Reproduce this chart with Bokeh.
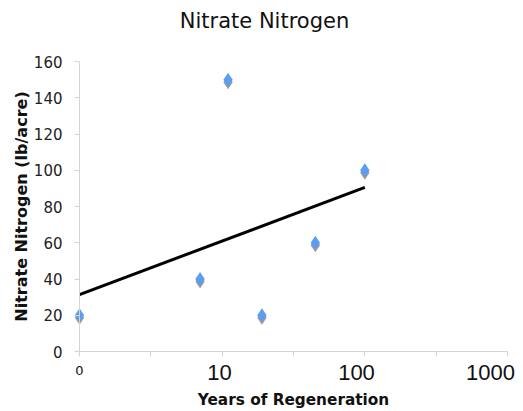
import numpy as np
from bokeh.plotting import figure
from bokeh.models import FixedTicker, Range1d, ColumnDataSource
from bokeh.transform import dodge
from bokeh.core.properties import value
from bokeh.embed import file_html
from bokeh.resources import INLINE

# Data
years = [0, 7, 11, 19, 45, 100]
nitrate = [20, 40, 150, 20, 60, 100]
y_ticks = [0, 20, 40, 60, 80, 100, 120, 140, 160]
x_tick_values = [1, 10, 100, 1000]
x_big_labels = ["10", "100", "1000"]
title_text = "Nitrate Nitrogen"
x_title = "Years of Regeneration"
y_title = "Nitrate Nitrogen (lb/acre)"

# log10 position (year 0 shown at the "0" tick, i.e. 10^0)
xpos = [float(np.log10(max(v, 1))) for v in years]

# logarithmic trend line fitted to the points
slope, intercept = np.polyfit(xpos, nitrate, 1)
tx = [min(xpos), max(xpos)]
ty = [intercept + slope * v for v in tx]

# layout: the plotting frame fills the canvas; the axes sit at x=0 / y=0
W, H = 523, 411
X0_PX, Y0_PX = 79.0, 351.0          # pixel position of (log=0, value=0)
PX_PER_DEC = 142.67                 # pixels per decade
PX_PER_UNIT = 290.0 / 160.0         # pixels per lb/acre


def dx(px):
    return (px - X0_PX) / PX_PER_DEC


def dy(py):
    return (Y0_PX - py) / PX_PER_UNIT


p = figure(width=W, height=H, output_backend="svg", toolbar_location=None, title=None,
           x_range=Range1d(dx(0), dx(W)), y_range=Range1d(dy(H), dy(0)), min_border=0)
p.outline_line_color = None
p.xgrid.visible = False
p.ygrid.visible = False
p.background_fill_color = "white"
p.border_fill_color = "white"

axis_col = "#d4d4d4"
# x axis, drawn at y = 0
xa = p.xaxis[0]
xa.fixed_location = 0
xa.bounds = (0, 3)
xa.ticker = FixedTicker(ticks=[float(np.log10(v)) for v in x_tick_values], minor_ticks=[0.5, 1.5, 2.5])
xa.major_label_overrides = {0.0: "0", 1.0: "", 2.0: "", 3.0: ""}
xa.major_label_text_font = "DejaVu Sans"
xa.major_label_text_font_size = "13px"
xa.major_label_text_color = "#111111"
xa.major_label_standoff = 9
xa.axis_line_color = axis_col
xa.major_tick_line_color = axis_col
xa.minor_tick_line_color = axis_col
xa.major_tick_in = 0
xa.major_tick_out = 5
xa.minor_tick_in = 0
xa.minor_tick_out = 5

# y axis, drawn at x = 0
ya = p.yaxis[0]
ya.fixed_location = 0
ya.bounds = (0, 160)
ya.ticker = FixedTicker(ticks=y_ticks)
ya.major_label_text_font = "DejaVu Sans"
ya.major_label_text_font_size = "15px"
ya.major_label_text_color = "#222222"
ya.major_label_standoff = 12
ya.axis_line_color = axis_col
ya.major_tick_line_color = axis_col
ya.minor_tick_line_color = None
ya.major_tick_in = 0
ya.major_tick_out = 5

# chart title
p.text(x=[dx(264)], y=[dy(20)], text=[title_text], text_align="center", text_baseline="middle",
       text_font=value("DejaVu Sans"), text_font_size="21px", text_color="#111111")
# axis titles
p.text(x=[dx(293)], y=[dy(399)], text=[x_title], text_align="center", text_baseline="middle",
       text_font=value("DejaVu Sans"), text_font_size="15.3px", text_font_style="bold",
       text_color="#111111")
p.text(x=[dx(21)], y=[dy(206)], text=[y_title], angle=np.pi / 2, text_align="center",
       text_baseline="middle", text_font=value("DejaVu Sans"), text_font_size="16px",
       text_font_style="bold", text_color="#111111")

# larger decade labels (text boxes in the original)
p.text(x=[dx(219), dx(356), dx(490)], y=[dy(372)] * 3, text=x_big_labels,
       text_align="center", text_baseline="middle", text_font=value("Liberation Sans"),
       text_font_size="22px", text_color="#111111")

# trend line
p.line(tx, ty, line_color="black", line_width=3)

# points with a soft shadow
src = ColumnDataSource(dict(x=xpos, y=nitrate))
p.scatter("x", dodge("y", -1.4, range=p.y_range), source=src, marker="diamond", size=14,
          fill_color="#7a7a7a", line_color=None, fill_alpha=0.75)
p.scatter("x", "y", source=src, marker="diamond", size=14, fill_color="#5a9ef2",
          line_color=None)

open("out.html", "w").write(file_html(p, INLINE))
